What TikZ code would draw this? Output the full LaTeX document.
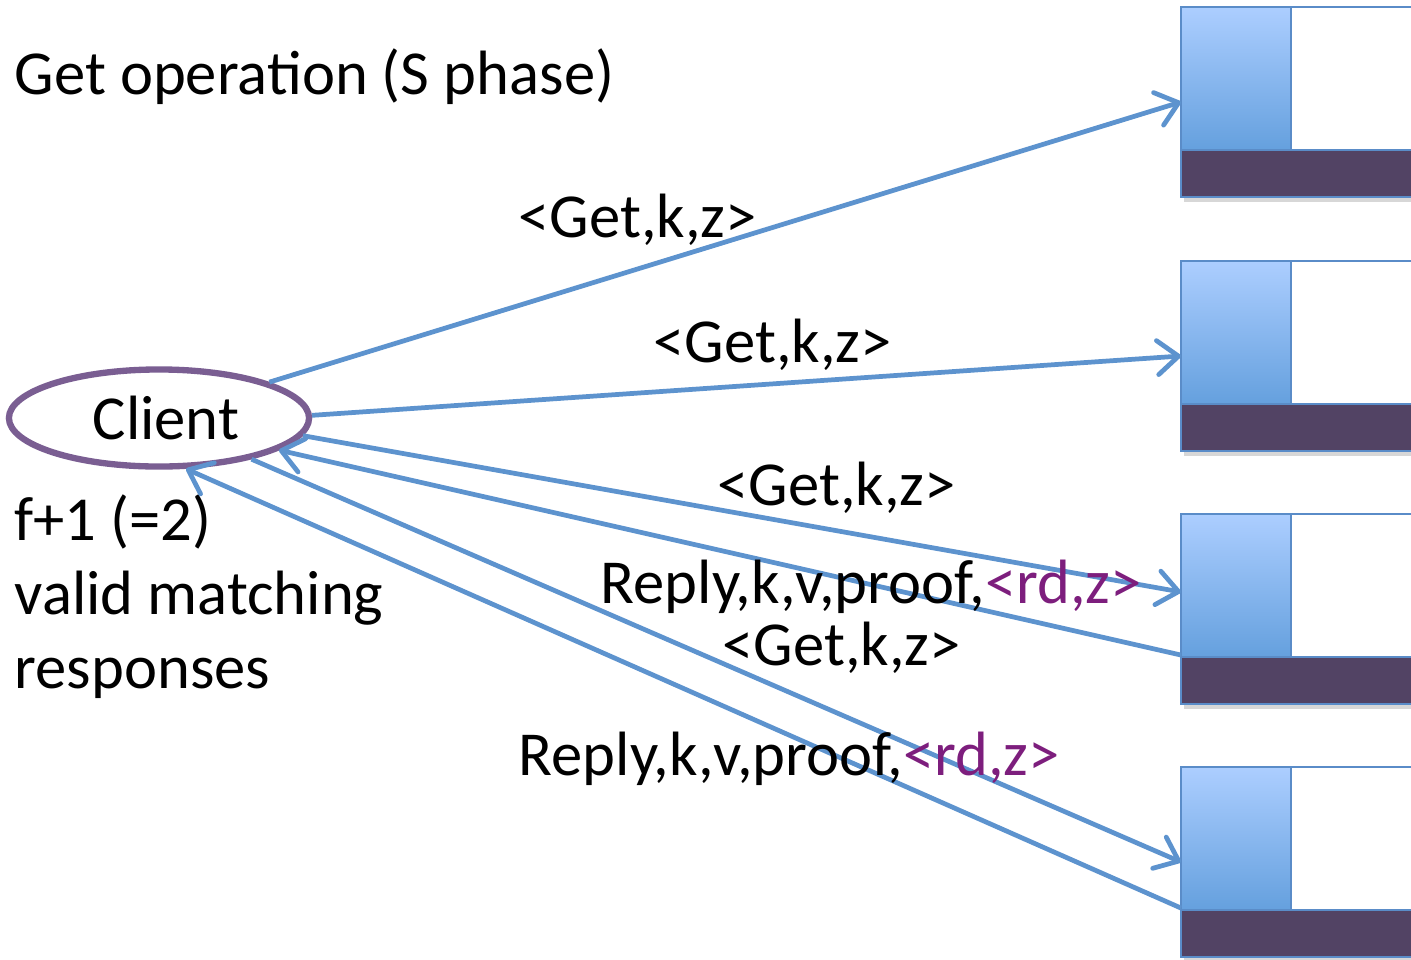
\documentclass[tikz,border=0pt]{standalone}
\usepackage{fontspec}
\setmainfont{Carlito}
\usetikzlibrary{arrows.meta,shapes.geometric}
\definecolor{arrowblue}{RGB}{93,147,206}
\definecolor{boxedge}{RGB}{90,140,200}
\definecolor{bartop}{RGB}{172,206,255}
\definecolor{barbot}{RGB}{101,160,222}
\definecolor{darkbar}{RGB}{82,67,100}
\definecolor{clientpurple}{RGB}{122,94,146}
\definecolor{txtpurple}{RGB}{125,30,125}
\begin{document}
\begin{tikzpicture}[x=0.01cm,y=-0.01cm,
  lbl/.style={anchor=base west,inner sep=0pt,font=\fontsize{17.8}{21}\selectfont},
  msg/.style={draw=arrowblue,line width=1.35pt,-{Straight Barb[length=2.1mm,width=3.4mm,line width=1.35pt,round]}},
  boxpart/.style={draw=boxedge,line width=0.8pt},
  clientnode/.style={draw=clientpurple,line width=1.8pt,ellipse,minimum width=3.0cm,minimum height=0.97cm,inner sep=0pt,font=\fontsize{17.8}{21}\selectfont}
]
\clip (0,0) rectangle (1411,960);

% servers
\foreach \i/\t in {1/7,2/261,3/514,4/767} {
  \fill[black!35,opacity=0.45] (1184,\t+4) rectangle (1430,\t+195);
  \shade[top color=bartop,bottom color=barbot,boxpart] (1181,\t) rectangle (1291,\t+143);
  \draw[boxpart,fill=white] (1291,\t) rectangle (1430,\t+143);
  \draw[boxpart,fill=darkbar] (1181,\t+143) rectangle (1430,\t+190);
  \node[inner sep=0pt,outer sep=0pt,minimum width=2.49cm,minimum height=1.9cm] (s\i) at (1305.5,\t+95) {};
}

% client
\node[clientnode] (client) at (159,418) {\hspace*{0.14cm}Client};

% texts
\node[lbl] (title) at (14,94) {Get operation (S phase)};
\node[lbl] (note1) at (14,540) {f+1 (=2)};
\node[lbl] (note2) at (14,614) {valid matching};
\node[lbl] (note3) at (14,688) {responses};

% arrows
\draw[msg] (client.18) -- (s1.west);
\draw[msg] (client.1) -- (s2.west);
\draw[msg] (client.-7) -- ([yshift=0.17cm]s3.west);
\draw[msg] ([yshift=-0.46cm]s3.west) -- (client.-15);
\draw[msg] (client.-24) -- (s4.west);
\draw[msg] ([yshift=-0.46cm]s4.west) -- (client.-62);

% labels
\node[lbl] (g1) at (518,237) {<Get,k,z>};
\node[lbl] (g2) at (653,362) {<Get,k,z>};
\node[lbl] (g3) at (717,505) {<Get,k,z>};
\node[lbl] (r1) at (600,603) {Reply,k,v,proof,\textcolor{txtpurple}{<rd,z>}};
\node[lbl] (g4) at (722,665) {<Get,k,z>};
\node[lbl] (r2) at (518,775) {Reply,k,v,proof,\textcolor{txtpurple}{<rd,z>}};
\end{tikzpicture}
\end{document}
